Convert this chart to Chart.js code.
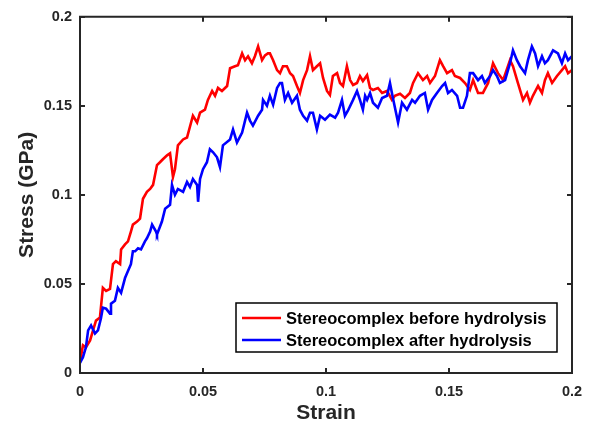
<!DOCTYPE html>
<html><head><meta charset="utf-8">
<script src="https://cdn.jsdelivr.net/npm/chart.js@4"></script>
<style>html,body{margin:0;padding:0;background:#fff;overflow:hidden}</style>
</head><body>
<canvas id="c" width="594" height="432" style="width:594px;height:432px;display:block"></canvas>
<script>
const seriesNames = ['Stereocomplex before hydrolysis', 'Stereocomplex after hydrolysis'];
const xTickValues = [0, 0.05, 0.1, 0.15, 0.2];
const xTickLabels = ['0', '0.05', '0.1', '0.15', '0.2'];
const yTickValues = [0, 0.05, 0.1, 0.15, 0.2];
const yTickLabels = ['0', '0.05', '0.1', '0.15', '0.2'];

const redStrain = [0,0.0012,0.0024,0.0041,0.0053,0.0065,0.0081,0.0093,0.0106,0.0122,0.0134,0.0146,0.0163,0.0167,0.0183,0.0195,0.0207,0.0215,0.0232,0.0244,0.0256,0.0272,0.0285,0.0297,0.0313,0.0325,0.0337,0.0354,0.0366,0.0378,0.0386,0.0398,0.0419,0.0435,0.0459,0.0476,0.0488,0.0508,0.0520,0.0537,0.0549,0.0561,0.0577,0.0598,0.0610,0.0630,0.0642,0.0659,0.0671,0.0683,0.0699,0.0711,0.0724,0.0740,0.0752,0.0764,0.0772,0.0785,0.0801,0.0813,0.0825,0.0841,0.0854,0.0866,0.0882,0.0894,0.0907,0.0923,0.0935,0.0947,0.0963,0.0976,0.0988,0.1004,0.1016,0.1028,0.1045,0.1057,0.1069,0.1085,0.1098,0.1110,0.1126,0.1138,0.1150,0.1167,0.1179,0.1191,0.1211,0.1228,0.1248,0.1268,0.1280,0.1301,0.1321,0.1341,0.1354,0.1374,0.1394,0.1411,0.1423,0.1443,0.1463,0.1476,0.1492,0.1512,0.1524,0.1545,0.1565,0.1585,0.1598,0.1618,0.1638,0.1659,0.1679,0.1699,0.1720,0.1748,0.1760,0.1780,0.1801,0.1817,0.1829,0.1841,0.1862,0.1878,0.1890,0.1902,0.1919,0.1939,0.1959,0.1972,0.1984,0.2000];
const redStress = [0.0061,0.0156,0.0144,0.0183,0.0239,0.0294,0.0311,0.0478,0.0461,0.0472,0.0611,0.0628,0.0611,0.0694,0.0722,0.0739,0.0794,0.0833,0.0850,0.0867,0.0978,0.1017,0.1033,0.1056,0.1167,0.1183,0.1200,0.1222,0.1233,0.1100,0.1144,0.1278,0.1311,0.1322,0.1444,0.1406,0.1461,0.1478,0.1533,0.1583,0.1556,0.1600,0.1583,0.1611,0.1711,0.1722,0.1728,0.1794,0.1756,0.1778,0.1739,0.1778,0.1833,0.1756,0.1783,0.1794,0.1794,0.1756,0.1700,0.1683,0.1722,0.1722,0.1683,0.1667,0.1611,0.1572,0.1644,0.1700,0.1778,0.1700,0.1722,0.1739,0.1656,0.1583,0.1561,0.1667,0.1683,0.1628,0.1611,0.1722,0.1644,0.1617,0.1628,0.1667,0.1639,0.1672,0.1600,0.1589,0.1600,0.1572,0.1583,0.1533,0.1556,0.1567,0.1544,0.1572,0.1628,0.1683,0.1644,0.1667,0.1628,0.1667,0.1756,0.1722,0.1683,0.1700,0.1667,0.1656,0.1628,0.1589,0.1644,0.1572,0.1572,0.1628,0.1739,0.1683,0.1644,0.1756,0.1722,0.1628,0.1533,0.1572,0.1517,0.1556,0.1611,0.1572,0.1644,0.1683,0.1628,0.1667,0.1700,0.1722,0.1683,0.1700];

const blueStrain = [0,0.0012,0.0024,0.0033,0.0045,0.0061,0.0073,0.0085,0.0093,0.0106,0.0122,0.0126,0.0142,0.0154,0.0167,0.0183,0.0195,0.0207,0.0215,0.0224,0.0236,0.0248,0.0264,0.0272,0.0285,0.0293,0.0309,0.0313,0.0333,0.0346,0.0366,0.0374,0.0386,0.0398,0.0419,0.0435,0.0447,0.0459,0.0476,0.0480,0.0488,0.0500,0.0516,0.0528,0.0541,0.0557,0.0569,0.0581,0.0610,0.0622,0.0638,0.0659,0.0679,0.0691,0.0703,0.0724,0.0740,0.0744,0.0760,0.0772,0.0785,0.0801,0.0813,0.0821,0.0833,0.0846,0.0862,0.0882,0.0894,0.0907,0.0923,0.0935,0.0947,0.0963,0.0976,0.0996,0.1016,0.1037,0.1049,0.1065,0.1077,0.1089,0.1110,0.1126,0.1138,0.1150,0.1159,0.1167,0.1179,0.1191,0.1211,0.1228,0.1248,0.1260,0.1272,0.1293,0.1309,0.1329,0.1350,0.1362,0.1382,0.1402,0.1415,0.1431,0.1451,0.1472,0.1484,0.1496,0.1512,0.1533,0.1545,0.1557,0.1573,0.1585,0.1598,0.1618,0.1634,0.1646,0.1667,0.1679,0.1695,0.1707,0.1728,0.1748,0.1760,0.1776,0.1789,0.1809,0.1821,0.1837,0.1850,0.1862,0.1878,0.1890,0.1902,0.1923,0.1943,0.1959,0.1972,0.1984,0.2000];
const blueStress = [0.0056,0.0089,0.0144,0.0239,0.0267,0.0222,0.0239,0.0306,0.0367,0.0361,0.0333,0.0389,0.0406,0.0478,0.0450,0.0533,0.0572,0.0611,0.0683,0.0683,0.0700,0.0694,0.0739,0.0756,0.0794,0.0833,0.0794,0.0778,0.0850,0.0922,0.0944,0.1056,0.1000,0.1033,0.1017,0.1072,0.1044,0.1089,0.1056,0.0961,0.1089,0.1144,0.1183,0.1256,0.1239,0.1211,0.1156,0.1278,0.1311,0.1367,0.1294,0.1350,0.1461,0.1417,0.1389,0.1444,0.1478,0.1533,0.1500,0.1556,0.1506,0.1600,0.1628,0.1628,0.1533,0.1572,0.1517,0.1556,0.1478,0.1444,0.1417,0.1461,0.1461,0.1367,0.1444,0.1422,0.1450,0.1433,0.1461,0.1533,0.1444,0.1472,0.1533,0.1583,0.1533,0.1478,0.1556,0.1533,0.1572,0.1517,0.1489,0.1544,0.1556,0.1628,0.1544,0.1406,0.1517,0.1478,0.1533,0.1517,0.1556,0.1572,0.1478,0.1533,0.1572,0.1611,0.1628,0.1572,0.1589,0.1556,0.1489,0.1489,0.1556,0.1683,0.1683,0.1644,0.1667,0.1628,0.1667,0.1700,0.1667,0.1628,0.1644,0.1739,0.1811,0.1756,0.1722,0.1683,0.1756,0.1833,0.1794,0.1722,0.1778,0.1739,0.1756,0.1811,0.1794,0.1739,0.1794,0.1756,0.1778];

const FONT = '"Liberation Sans", Arial, Helvetica, sans-serif';
const AXIS_COLOR = '#262626';

function pts(xs, ys) { return xs.map((x, i) => ({x: x, y: ys[i]})); }

const boxPlugin = {
  id: 'matlabBox',
  afterDatasetsDraw(chart) {
    const {ctx, chartArea: a, scales} = chart;
    ctx.save();
    ctx.strokeStyle = AXIS_COLOR;
    ctx.lineWidth = 2;
    ctx.beginPath();
    ctx.rect(a.left, a.top, a.right - a.left, a.bottom - a.top);
    ctx.stroke();
    const tl = 5;
    ctx.beginPath();
    xTickValues.forEach(v => {
      const p = Math.round(scales.x.getPixelForValue(v));
      ctx.moveTo(p, a.bottom); ctx.lineTo(p, a.bottom - tl);
      ctx.moveTo(p, a.top); ctx.lineTo(p, a.top + tl);
    });
    yTickValues.forEach(v => {
      const p = Math.round(scales.y.getPixelForValue(v));
      ctx.moveTo(a.left, p); ctx.lineTo(a.left + tl, p);
      ctx.moveTo(a.right, p); ctx.lineTo(a.right - tl, p);
    });
    ctx.stroke();

    // legend inside the plot
    const lx = 236, ly = 303, lw = 321, lh = 49;
    ctx.fillStyle = '#fff';
    ctx.fillRect(lx, ly, lw, lh);
    ctx.lineWidth = 1.5;
    ctx.strokeStyle = '#000';
    ctx.strokeRect(lx, ly, lw, lh);
    ctx.font = 'bold 16.5px ' + FONT;
    ctx.textBaseline = 'middle';
    ctx.textAlign = 'left';
    chart.data.datasets.forEach((ds, i) => {
      const yy = ly + 15 + i * 22;
      ctx.strokeStyle = ds.borderColor;
      ctx.lineWidth = 2.6;
      ctx.beginPath();
      ctx.moveTo(lx + 6, yy); ctx.lineTo(lx + 45, yy);
      ctx.stroke();
      ctx.fillStyle = '#000';
      ctx.fillText(ds.label, lx + 50, yy + 1);
    });
    ctx.restore();
  }
};

new Chart(document.getElementById('c'), {
  type: 'line',
  data: {
    datasets: [
      {label: seriesNames[0], data: pts(redStrain, redStress), borderColor: '#ff0000', borderWidth: 2.6, pointRadius: 0, tension: 0, fill: false, order: 1},
      {label: seriesNames[1], data: pts(blueStrain, blueStress), borderColor: '#0000ff', borderWidth: 2.6, pointRadius: 0, tension: 0, fill: false, order: 0}
    ]
  },
  options: {
    responsive: false,
    animation: false,
    devicePixelRatio: 1,
    layout: {padding: {left: 0, right: 22, top: 12, bottom: 0}},
    plugins: {legend: {display: false}, tooltip: {enabled: false}},
    scales: {
      x: {
        type: 'linear', min: 0, max: 0.2,
        afterBuildTicks: s => { s.ticks = xTickValues.map(v => ({value: v})); },
        afterFit: s => { s.height = 59; },
        grid: {display: false, drawTicks: false},
        border: {display: false},
        ticks: {padding: 10, color: '#262626', font: {family: FONT, size: 14.5, weight: 'bold'}, callback: (v, i) => xTickLabels[i], maxRotation: 0},
        title: {display: true, text: 'Strain', color: '#262626', font: {family: FONT, size: 21, weight: 'bold'}, padding: {top: 0, bottom: 6}}
      },
      y: {
        type: 'linear', min: 0, max: 0.2,
        afterBuildTicks: s => { s.ticks = yTickValues.map(v => ({value: v})); },
        afterFit: s => { s.width = 80; },
        grid: {display: false, drawTicks: false},
        border: {display: false},
        ticks: {padding: 8, color: '#262626', font: {family: FONT, size: 14.5, weight: 'bold'}, callback: (v, i) => yTickLabels[i]},
        title: {display: true, text: 'Stress (GPa)', color: '#262626', font: {family: FONT, size: 21, weight: 'bold'}, padding: {top: 15, bottom: 0}}
      }
    }
  },
  plugins: [boxPlugin]
});
</script>
</body></html>
